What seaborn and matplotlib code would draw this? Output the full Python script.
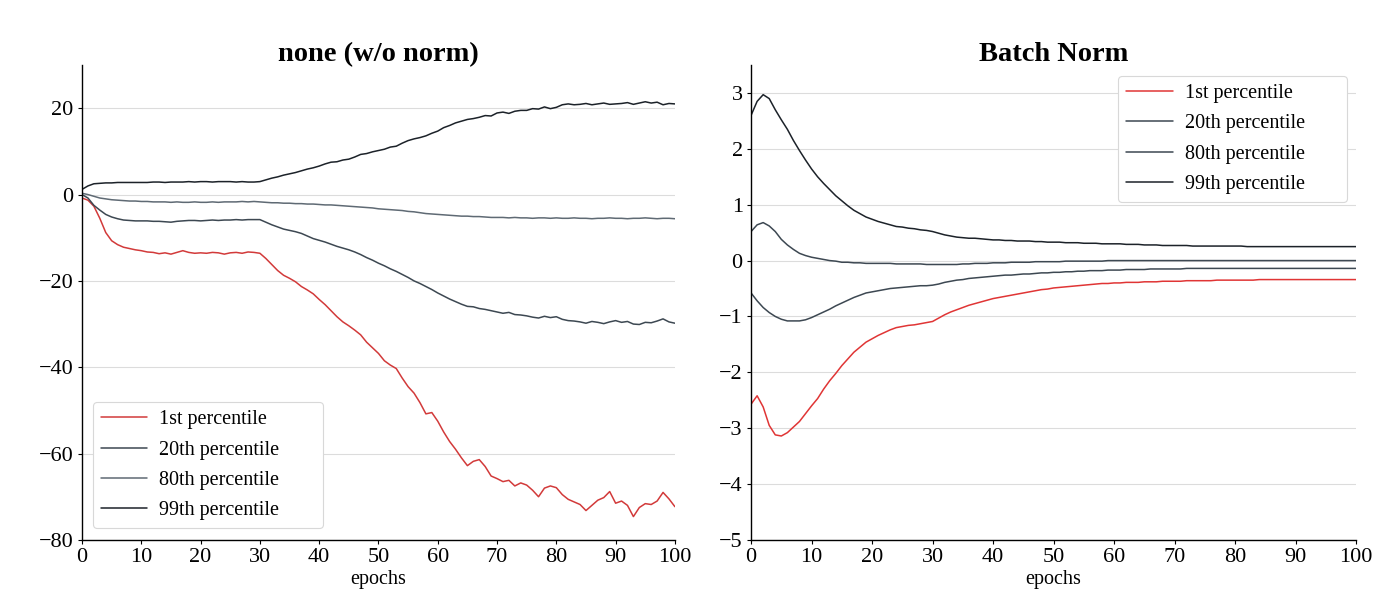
"""Activation percentiles per epoch, with and without batch norm."""

import matplotlib

matplotlib.use("Agg")
import matplotlib.pyplot as plt
import pandas as pd
import seaborn as sns

EPOCHS = list(range(101))
LABELS = ["1st percentile", "20th percentile", "80th percentile", "99th percentile"]

# none (w/o norm)
none_p1 = [
    -0.8, -1.3, -2.7, -5.5, -8.8, -10.7, -11.6, -12.2, -12.5, -12.8,
    -13.0, -13.3, -13.4, -13.7, -13.5, -13.8, -13.4, -13.0, -13.4, -13.6,
    -13.5, -13.6, -13.4, -13.5, -13.8, -13.5, -13.4, -13.6, -13.3, -13.4,
    -13.6, -14.8, -16.2, -17.6, -18.7, -19.4, -20.2, -21.3, -22.1, -23.0,
    -24.3, -25.5, -26.9, -28.3, -29.5, -30.4, -31.4, -32.5, -34.2, -35.5,
    -36.8, -38.5, -39.5, -40.3, -42.5, -44.5, -46.0, -48.2, -50.8, -50.5,
    -52.5, -55.0, -57.2, -59.0, -61.0, -62.8, -61.8, -61.4, -63.0, -65.2,
    -65.8, -66.5, -66.2, -67.5, -66.8, -67.3, -68.5, -70.0, -68.0, -67.5,
    -67.9, -69.5, -70.6, -71.2, -71.8, -73.2, -72.0, -70.8, -70.2, -68.8,
    -71.5, -71.0, -72.0, -74.6, -72.5, -71.6, -71.8, -71.0, -69.0, -70.5,
    -72.3,
]
none_p20 = [
    0.0, -0.8, -2.5, -3.6, -4.6, -5.2, -5.6, -5.9, -6.0, -6.1,
    -6.1, -6.1, -6.2, -6.2, -6.3, -6.4, -6.2, -6.1, -6.0, -6.0,
    -6.1, -6.0, -5.9, -6.0, -5.9, -5.9, -5.8, -5.9, -5.8, -5.8,
    -5.8, -6.4, -7.0, -7.5, -8.0, -8.3, -8.6, -9.0, -9.6, -10.2,
    -10.6, -11.0, -11.5, -12.0, -12.4, -12.8, -13.3, -13.9, -14.6, -15.2,
    -15.9, -16.5, -17.2, -17.8, -18.5, -19.2, -20.0, -20.6, -21.3, -22.0,
    -22.8, -23.5, -24.2, -24.8, -25.4, -25.9, -26.0, -26.4, -26.6, -26.9,
    -27.2, -27.5, -27.3, -27.8, -27.9, -28.1, -28.4, -28.6, -28.2, -28.5,
    -28.3, -28.9, -29.2, -29.3, -29.5, -29.8, -29.4, -29.6, -29.9, -29.5,
    -29.2, -29.6, -29.4, -30.0, -30.1, -29.6, -29.7, -29.3, -28.8, -29.5,
    -29.8,
]
none_p80 = [
    0.3, 0.0, -0.4, -0.8, -1.0, -1.2, -1.3, -1.4, -1.5, -1.5,
    -1.6, -1.6, -1.7, -1.7, -1.7, -1.8, -1.7, -1.8, -1.8, -1.7,
    -1.8, -1.8, -1.7, -1.8, -1.7, -1.7, -1.7, -1.6, -1.7, -1.6,
    -1.7, -1.8, -1.9, -1.9, -2.0, -2.0, -2.1, -2.1, -2.2, -2.2,
    -2.3, -2.4, -2.4, -2.5, -2.6, -2.7, -2.8, -2.9, -3.0, -3.1,
    -3.3, -3.4, -3.5, -3.6, -3.7, -3.9, -4.0, -4.2, -4.4, -4.5,
    -4.6, -4.7, -4.8, -4.9, -5.0, -5.0, -5.1, -5.1, -5.2, -5.3,
    -5.3, -5.3, -5.4, -5.3, -5.4, -5.4, -5.5, -5.4, -5.4, -5.5,
    -5.4, -5.5, -5.5, -5.4, -5.5, -5.5, -5.6, -5.5, -5.5, -5.4,
    -5.5, -5.5, -5.6, -5.5, -5.5, -5.4, -5.5, -5.6, -5.5, -5.5,
    -5.6,
]
none_p99 = [
    1.2, 2.0, 2.5, 2.6, 2.7, 2.7, 2.8, 2.8, 2.8, 2.8,
    2.8, 2.8, 2.9, 2.9, 2.8, 2.9, 2.9, 2.9, 3.0, 2.9,
    3.0, 3.0, 2.9, 3.0, 3.0, 3.0, 2.9, 3.0, 2.9, 2.9,
    3.0, 3.4, 3.8, 4.1, 4.5, 4.8, 5.1, 5.5, 5.9, 6.2,
    6.6, 7.1, 7.5, 7.6, 8.0, 8.2, 8.7, 9.3, 9.5, 9.9,
    10.2, 10.5, 11.0, 11.2, 11.9, 12.5, 12.9, 13.2, 13.6, 14.2,
    14.7, 15.5, 16.0, 16.6, 17.0, 17.4, 17.6, 17.9, 18.3, 18.2,
    18.9, 19.1, 18.8, 19.3, 19.5, 19.5, 19.9, 19.8, 20.3, 19.9,
    20.2, 20.8, 21.0, 20.8, 20.9, 21.1, 20.8, 21.0, 21.2, 20.9,
    21.0, 21.1, 21.3, 20.9, 21.2, 21.5, 21.2, 21.4, 20.8, 21.1,
    21.0,
]

# Batch Norm
bn_p1 = [
    -2.57, -2.42, -2.62, -2.95, -3.12, -3.14, -3.08, -2.98, -2.88, -2.74,
    -2.60, -2.47, -2.30, -2.15, -2.02, -1.88, -1.76, -1.64, -1.55, -1.46,
    -1.40, -1.34, -1.29, -1.24, -1.20, -1.18, -1.16, -1.15, -1.13, -1.11,
    -1.09, -1.03, -0.97, -0.92, -0.88, -0.84, -0.80, -0.77, -0.74, -0.71,
    -0.68, -0.66, -0.64, -0.62, -0.60, -0.58, -0.56, -0.54, -0.52, -0.51,
    -0.49, -0.48, -0.47, -0.46, -0.45, -0.44, -0.43, -0.42, -0.41, -0.41,
    -0.40, -0.40, -0.39, -0.39, -0.39, -0.38, -0.38, -0.38, -0.37, -0.37,
    -0.37, -0.37, -0.36, -0.36, -0.36, -0.36, -0.36, -0.35, -0.35, -0.35,
    -0.35, -0.35, -0.35, -0.35, -0.34, -0.34, -0.34, -0.34, -0.34, -0.34,
    -0.34, -0.34, -0.34, -0.34, -0.34, -0.34, -0.34, -0.34, -0.34, -0.34,
    -0.34,
]
bn_p20 = [
    -0.58, -0.72, -0.84, -0.93, -1.00, -1.05, -1.08, -1.08, -1.08, -1.06,
    -1.02, -0.97, -0.92, -0.87, -0.81, -0.76, -0.71, -0.66, -0.62, -0.58,
    -0.56, -0.54, -0.52, -0.50, -0.49, -0.48, -0.47, -0.46, -0.45, -0.45,
    -0.44, -0.42, -0.39, -0.37, -0.35, -0.34, -0.32, -0.31, -0.30, -0.29,
    -0.28, -0.27, -0.26, -0.26, -0.25, -0.24, -0.24, -0.23, -0.22, -0.22,
    -0.21, -0.21, -0.20, -0.20, -0.19, -0.19, -0.18, -0.18, -0.18, -0.17,
    -0.17, -0.17, -0.16, -0.16, -0.16, -0.16, -0.15, -0.15, -0.15, -0.15,
    -0.15, -0.15, -0.14, -0.14, -0.14, -0.14, -0.14, -0.14, -0.14, -0.14,
    -0.14, -0.14, -0.14, -0.14, -0.14, -0.14, -0.14, -0.14, -0.14, -0.14,
    -0.14, -0.14, -0.14, -0.14, -0.14, -0.14, -0.14, -0.14, -0.14, -0.14,
    -0.14,
]
bn_p80 = [
    0.52, 0.64, 0.68, 0.62, 0.52, 0.38, 0.28, 0.20, 0.13, 0.09,
    0.06, 0.04, 0.02, 0.00, -0.01, -0.03, -0.03, -0.04, -0.04, -0.05,
    -0.05, -0.05, -0.05, -0.05, -0.06, -0.06, -0.06, -0.06, -0.06, -0.07,
    -0.07, -0.07, -0.07, -0.07, -0.07, -0.06, -0.06, -0.05, -0.05, -0.05,
    -0.04, -0.04, -0.04, -0.03, -0.03, -0.03, -0.03, -0.02, -0.02, -0.02,
    -0.02, -0.02, -0.01, -0.01, -0.01, -0.01, -0.01, -0.01, -0.01, 0.00,
    0.00, 0.00, 0.00, 0.00, 0.00, 0.00, 0.00, 0.00, 0.00, 0.00,
    0.00, 0.00, 0.00, 0.00, 0.00, 0.00, 0.00, 0.00, 0.00, 0.00,
    0.00, 0.00, 0.00, 0.00, 0.00, 0.00, 0.00, 0.00, 0.00, 0.00,
    0.00, 0.00, 0.00, 0.00, 0.00, 0.00, 0.00, 0.00, 0.00, 0.00,
    0.00,
]
bn_p99 = [
    2.60, 2.85, 2.97, 2.90, 2.70, 2.52, 2.35, 2.15, 1.97, 1.80,
    1.64, 1.50, 1.38, 1.27, 1.16, 1.07, 0.98, 0.90, 0.84, 0.78,
    0.74, 0.70, 0.67, 0.64, 0.61, 0.60, 0.58, 0.57, 0.55, 0.54,
    0.52, 0.49, 0.46, 0.44, 0.42, 0.41, 0.40, 0.40, 0.39, 0.38,
    0.37, 0.37, 0.36, 0.36, 0.35, 0.35, 0.35, 0.34, 0.34, 0.33,
    0.33, 0.33, 0.32, 0.32, 0.32, 0.31, 0.31, 0.31, 0.30, 0.30,
    0.30, 0.30, 0.29, 0.29, 0.29, 0.28, 0.28, 0.28, 0.27, 0.27,
    0.27, 0.27, 0.27, 0.26, 0.26, 0.26, 0.26, 0.26, 0.26, 0.26,
    0.26, 0.26, 0.25, 0.25, 0.25, 0.25, 0.25, 0.25, 0.25, 0.25,
    0.25, 0.25, 0.25, 0.25, 0.25, 0.25, 0.25, 0.25, 0.25, 0.25,
    0.25,
]


def long_frame(series: list[list[float]]) -> pd.DataFrame:
    parts = [pd.DataFrame({"epoch": EPOCHS, "value": vals, "series": lab})
             for lab, vals in zip(LABELS, series)]
    return pd.concat(parts, ignore_index=True)


sns.set_theme(style="whitegrid")
plt.rcParams["font.family"] = ["Liberation Serif", "DejaVu Serif"]
plt.rcParams.update({"text.color": "black", "axes.labelcolor": "black",
                     "xtick.color": "black", "ytick.color": "black"})

fig = plt.figure(figsize=(13.95, 6.08), dpi=100)
ax_l = fig.add_axes([0.0588, 0.112, 0.425, 0.781])
ax_r = fig.add_axes([0.5384, 0.112, 0.4337, 0.781])

panels = [
    (ax_l, "none (w/o norm)", [none_p1, none_p20, none_p80, none_p99],
     ["#d23a3a", "#3d4852", "#5f6a74", "#1c2229"], (-80, 30), range(-80, 21, 20),
     (0.0185, 0.025, 0.388, 0.265)),
    (ax_r, "Batch Norm", [bn_p1, bn_p20, bn_p80, bn_p99],
     ["#e03535", "#3d4852", "#3d4852", "#1c2229"], (-5, 3.5), range(-5, 4),
     (0.607, 0.712, 0.378, 0.267)),
]

for ax, title, series, colors, ylim, yticks, box in panels:
    frame = long_frame(series)
    sns.lineplot(data=frame, x="epoch", y="value", hue="series", hue_order=LABELS,
                 palette=dict(zip(LABELS, colors)), estimator=None, errorbar=None,
                 linewidth=1.1, ax=ax)
    ax.set_xlim(0, 100)
    ax.set_ylim(*ylim)
    ax.set_xticks(range(0, 101, 10))
    ax.set_yticks(list(yticks))
    ax.set_title(title, fontsize=20.5, fontweight="bold", pad=3, color="black")
    ax.set_xlabel("epochs", fontsize=14.5, labelpad=2)
    ax.set_ylabel("")
    ax.set_facecolor("white")
    ax.grid(axis="y", color="#dcdcdc", linewidth=0.8)
    ax.grid(axis="x", visible=False)
    for side in ("top", "right"):
        ax.spines[side].set_visible(False)
    for side in ("left", "bottom"):
        ax.spines[side].set_color("black")
        ax.spines[side].set_linewidth(1.0)
    ax.tick_params(axis="both", labelsize=16, direction="out", length=3, width=0.8,
                   color="black", labelcolor="black", pad=3, left=True, bottom=True)
    handles, _ = ax.get_legend_handles_labels()
    leg = ax.legend(handles, LABELS, loc="lower left", bbox_to_anchor=box, mode="expand",
                    fontsize=14.5, frameon=True, fancybox=True, edgecolor="#d8d8d8",
                    framealpha=1, handlelength=2.3, handletextpad=0.6, labelspacing=0.55,
                    borderpad=0.4, borderaxespad=0)
    leg.get_frame().set_linewidth(0.8)

fig.savefig("out.png", dpi=100, facecolor="white")
